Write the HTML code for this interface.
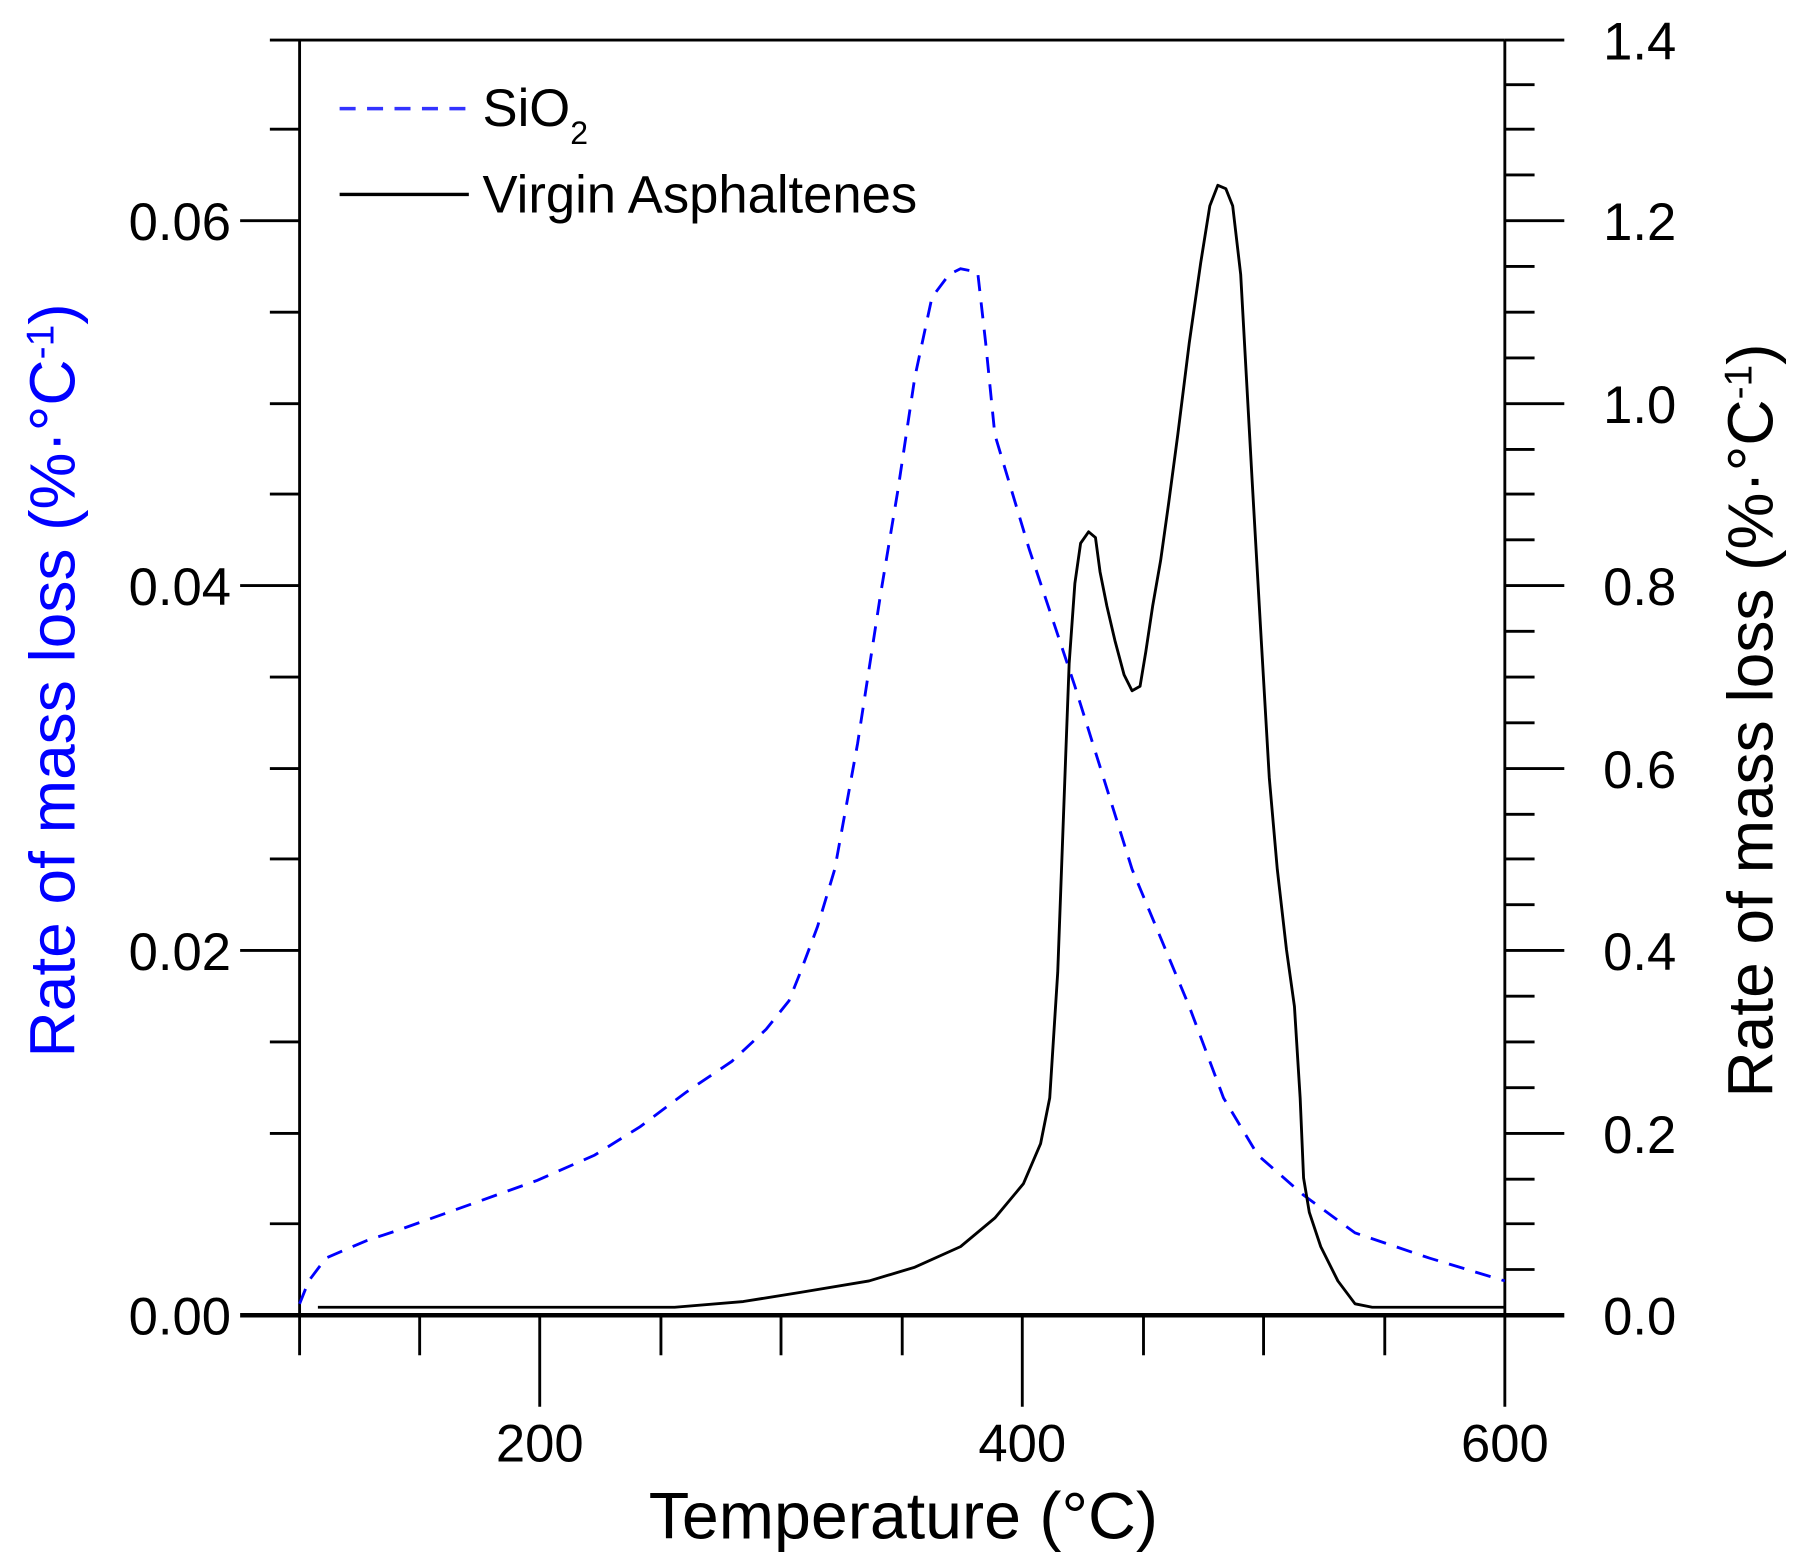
<!DOCTYPE html>
<html><head><style>html,body{margin:0;padding:0;background:#fff}svg{display:block}</style></head>
<body>
<svg width="1793" height="1560" viewBox="0 0 1568 1364" preserveAspectRatio="none" xmlns="http://www.w3.org/2000/svg" font-family="Liberation Sans, Arial, sans-serif">
<rect width="1568" height="1364" fill="#fff"/>
<g stroke="#000" stroke-width="2.5" fill="none">
<line x1="236" y1="35" x2="1316" y2="35"/>
<line x1="262" y1="35" x2="262" y2="1185"/>
<line x1="1316" y1="35" x2="1316" y2="1230"/>
<line x1="210" y1="1150" x2="1368" y2="1150" stroke-width="4"/>
</g>
<g stroke="#000" stroke-width="2.5">
<line x1="236" y1="1070" x2="262" y2="1070"/><line x1="236" y1="991" x2="262" y2="991"/>
<line x1="236" y1="911" x2="262" y2="911"/><line x1="210" y1="831" x2="262" y2="831"/>
<line x1="236" y1="751" x2="262" y2="751"/><line x1="236" y1="672" x2="262" y2="672"/>
<line x1="236" y1="592" x2="262" y2="592"/><line x1="210" y1="512" x2="262" y2="512"/>
<line x1="236" y1="432" x2="262" y2="432"/><line x1="236" y1="353" x2="262" y2="353"/>
<line x1="236" y1="273" x2="262" y2="273"/><line x1="210" y1="193" x2="262" y2="193"/>
<line x1="236" y1="113" x2="262" y2="113"/>
<!-- right ticks every 0.05 -->
<line x1="1316" y1="1110" x2="1342" y2="1110"/><line x1="1316" y1="1070" x2="1342" y2="1070"/><line x1="1316" y1="1031" x2="1342" y2="1031"/><line x1="1316" y1="991" x2="1368" y2="991"/>
<line x1="1316" y1="951" x2="1342" y2="951"/><line x1="1316" y1="911" x2="1342" y2="911"/><line x1="1316" y1="871" x2="1342" y2="871"/><line x1="1316" y1="831" x2="1368" y2="831"/>
<line x1="1316" y1="791" x2="1342" y2="791"/><line x1="1316" y1="751" x2="1342" y2="751"/><line x1="1316" y1="712" x2="1342" y2="712"/><line x1="1316" y1="672" x2="1368" y2="672"/>
<line x1="1316" y1="632" x2="1342" y2="632"/><line x1="1316" y1="592" x2="1342" y2="592"/><line x1="1316" y1="552" x2="1342" y2="552"/><line x1="1316" y1="512" x2="1368" y2="512"/>
<line x1="1316" y1="472" x2="1342" y2="472"/><line x1="1316" y1="432" x2="1342" y2="432"/><line x1="1316" y1="393" x2="1342" y2="393"/><line x1="1316" y1="353" x2="1368" y2="353"/>
<line x1="1316" y1="313" x2="1342" y2="313"/><line x1="1316" y1="273" x2="1342" y2="273"/><line x1="1316" y1="233" x2="1342" y2="233"/><line x1="1316" y1="193" x2="1368" y2="193"/>
<line x1="1316" y1="153" x2="1342" y2="153"/><line x1="1316" y1="113" x2="1342" y2="113"/><line x1="1316" y1="74" x2="1342" y2="74"/><line x1="1316" y1="35" x2="1368" y2="35"/>
<line x1="367" y1="1150" x2="367" y2="1185"/><line x1="472" y1="1150" x2="472" y2="1230"/>
<line x1="578" y1="1150" x2="578" y2="1185"/><line x1="683" y1="1150" x2="683" y2="1185"/>
<line x1="789" y1="1150" x2="789" y2="1185"/><line x1="894" y1="1150" x2="894" y2="1230"/>
<line x1="1000" y1="1150" x2="1000" y2="1185"/><line x1="1105" y1="1150" x2="1105" y2="1185"/>
<line x1="1211" y1="1150" x2="1211" y2="1185"/>
</g>
<g font-size="46" fill="#000">
<g text-anchor="end">
<text x="202" y="1167">0.00</text><text x="202" y="848">0.02</text>
<text x="202" y="529">0.04</text><text x="202" y="210">0.06</text>
</g>
<g text-anchor="start">
<text x="1402" y="1167">0.0</text><text x="1402" y="1008">0.2</text>
<text x="1402" y="848">0.4</text><text x="1402" y="689">0.6</text>
<text x="1402" y="529">0.8</text><text x="1402" y="370">1.0</text>
<text x="1402" y="210">1.2</text><text x="1402" y="52">1.4</text>
</g>
<g text-anchor="middle">
<text x="472" y="1278">200</text><text x="894" y="1278">400</text><text x="1316" y="1278">600</text>
</g>
</g>
<text x="790" y="1345" font-size="58" text-anchor="middle">Temperature (°C)</text>
<text transform="translate(65,595) rotate(-90)" font-size="56" fill="#0000ff" text-anchor="middle">Rate of mass loss (%·°C<tspan baseline-shift="super" font-size="34">-1</tspan>)</text>
<text transform="translate(1550,630) rotate(-90)" font-size="56" fill="#000" text-anchor="middle">Rate of mass loss (%·°C<tspan baseline-shift="super" font-size="34">-1</tspan>)</text>
<line x1="297" y1="95" x2="410" y2="95" stroke="#3333ff" stroke-width="3" stroke-dasharray="14,10"/>
<text x="422" y="110" font-size="46">SiO<tspan baseline-shift="sub" font-size="28">2</tspan></text>
<line x1="297" y1="170" x2="410" y2="170" stroke="#000" stroke-width="3"/>
<text x="422" y="186" font-size="46">Virgin Asphaltenes</text>
<polyline fill="none" stroke="#0000ff" stroke-width="2.5" stroke-dasharray="14,10" points="262,1140 270,1120 285,1100 320,1085 350,1075 420,1050 470,1032 520,1010 560,985 600,955 640,928 670,900 690,875 700,850 715,810 730,760 750,650 770,520 785,430 800,330 815,260 830,240 840,235 855,238 862,300 870,380 885,430 900,480 920,540 940,600 965,680 990,760 1015,820 1040,880 1070,960 1100,1010 1140,1045 1185,1078 1250,1100 1316,1120"/>
<polyline fill="none" stroke="#000" stroke-width="2.5" stroke-linejoin="round" points="278,1143 590,1143 650,1138 700,1130 760,1120 800,1108 840,1090 870,1065 895,1035 910,1000 918,960 925,850 932,660 935,580 940,510 945,475 952,465 958,470 962,500 968,530 975,560 983,590 990,604 997,600 1002,570 1008,530 1015,490 1022,440 1030,380 1040,300 1050,230 1058,180 1065,162 1072,165 1078,180 1085,240 1090,330 1095,420 1103,560 1110,680 1117,760 1125,830 1132,880 1137,960 1140,1030 1145,1060 1155,1090 1170,1120 1185,1140 1200,1143 1316,1143"/>
</svg>
</body></html>
